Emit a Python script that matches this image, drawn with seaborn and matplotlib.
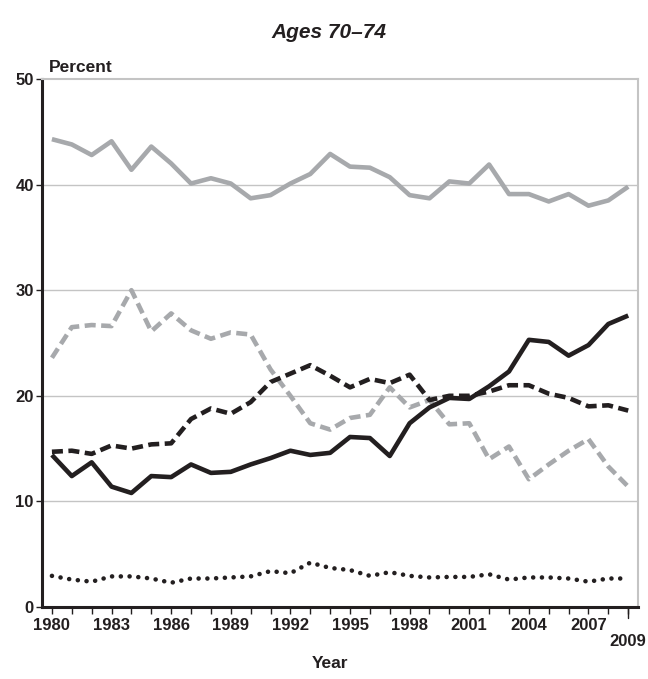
import matplotlib

matplotlib.use("Agg")
import matplotlib.pyplot as plt
import pandas as pd
import seaborn as sns

years = list(range(1980, 2010))

gray_solid = [44.3, 43.8, 42.8, 44.1, 41.4, 43.6, 42.0, 40.1, 40.6, 40.1,
              38.7, 39.0, 40.1, 41.0, 42.9, 41.7, 41.6, 40.7, 39.0, 38.7,
              40.3, 40.1, 41.9, 39.1, 39.1, 38.4, 39.1, 38.0, 38.5, 39.8]
gray_dashed = [23.6, 26.5, 26.7, 26.6, 30.0, 26.1, 27.8, 26.2, 25.4, 26.0,
               25.8, 22.5, 20.0, 17.4, 16.8, 17.9, 18.2, 20.8, 18.9, 19.6,
               17.3, 17.4, 14.0, 15.2, 12.1, 13.5, 14.8, 15.9, 13.3, 11.4]
black_dashed = [14.7, 14.8, 14.5, 15.3, 15.0, 15.4, 15.5, 17.8, 18.8, 18.3,
                19.4, 21.3, 22.1, 22.9, 21.9, 20.8, 21.6, 21.2, 22.0, 19.6,
                20.0, 20.0, 20.4, 21.0, 21.0, 20.2, 19.8, 19.0, 19.1, 18.6]
black_solid = [14.4, 12.4, 13.7, 11.4, 10.8, 12.4, 12.3, 13.5, 12.7, 12.8,
               13.5, 14.1, 14.8, 14.4, 14.6, 16.1, 16.0, 14.3, 17.4, 18.9,
               19.8, 19.7, 20.9, 22.3, 25.3, 25.1, 23.8, 24.8, 26.8, 27.6]
black_dotted = [2.95, 2.6, 2.4, 2.9, 2.9, 2.7, 2.3, 2.7, 2.7, 2.8,
                2.9, 3.4, 3.2, 4.2, 3.7, 3.5, 2.95, 3.3, 2.95, 2.8,
                2.85, 2.85, 3.1, 2.6, 2.8, 2.8, 2.7, 2.4, 2.7, 2.7]

tick_years = [1980, 1983, 1986, 1989, 1992, 1995, 1998, 2001, 2004, 2007]
y_ticks = [0, 10, 20, 30, 40, 50]

GRAY = "#a7a9ac"
BLACK = "#231f20"
FONT = ["Liberation Sans Narrow", "Liberation Sans", "DejaVu Sans"]

sns.set_style("white")
plt.rcParams["font.family"] = FONT
plt.rcParams["font.weight"] = "bold"

df = pd.DataFrame({
    "Year": years,
    "gray_solid": gray_solid,
    "gray_dashed": gray_dashed,
    "black_dashed": black_dashed,
    "black_solid": black_solid,
    "black_dotted": black_dotted,
})

DASH = (0, (2.4, 1.2))
DOT = (0, (0.01, 1.9))
styles = {
    "gray_solid": dict(color=GRAY, linestyle="-"),
    "gray_dashed": dict(color=GRAY, linestyle=DASH),
    "black_dashed": dict(color=BLACK, linestyle=DASH),
    "black_solid": dict(color=BLACK, linestyle="-"),
    "black_dotted": dict(color=BLACK, linestyle=DOT, dash_capstyle="round"),
}

fig = plt.figure(figsize=(6.48, 6.79), dpi=100)
ax = fig.add_axes([0.0648, 0.106, 0.92, 0.7777])

for y_val in [10, 20, 30, 40]:
    ax.axhline(y_val, color="#c4c4c4", lw=1.0, zorder=0)

for name, kw in styles.items():
    sns.lineplot(data=df, x="Year", y=name, ax=ax, lw=3.3,
                 solid_capstyle="butt", **kw)

ax.set_xlim(1979.5, 2009.5)
ax.set_ylim(0, 50)

ax.set_xticks(years)
ax.set_xticklabels([str(y) if y in tick_years else "" for y in years],
                   fontsize=12, fontweight="bold")
ax.set_yticks(y_ticks)
ax.set_yticklabels([str(v) for v in y_ticks], fontsize=12, fontweight="bold")
ax.tick_params(axis="x", length=5, width=1, color=BLACK, pad=3,
               labelcolor=BLACK, bottom=True)
ax.tick_params(axis="y", length=4, width=1, color=BLACK, pad=2,
               labelcolor=BLACK, left=True)

# longer tick and dropped label for the last year
ax.plot([2009, 2009], [0, -0.02], transform=ax.get_xaxis_transform(),
        color=BLACK, lw=1, clip_on=False)
ax.text(2009, -0.066, "2009", transform=ax.get_xaxis_transform(),
        ha="center", va="center", fontsize=12, fontweight="bold", color=BLACK)

ax.set_xlabel("")
ax.set_ylabel("")
for side in ["left", "bottom"]:
    ax.spines[side].set_color(BLACK)
    ax.spines[side].set_linewidth(2.2)
for side in ["top", "right"]:
    ax.spines[side].set_color("#c4c4c4")
    ax.spines[side].set_linewidth(1.5)

fig.text(0.075, 1 - 67 / 679, "Percent", fontsize=12.5, fontweight="bold",
         color=BLACK, ha="left", va="center")
fig.text(0.507, 1 - 32 / 679, "Ages 70\u201374", fontsize=15,
         fontweight="bold", fontstyle="italic", color=BLACK,
         ha="center", va="center")
fig.text(0.51, 1 - 663 / 679, "Year", fontsize=12.5, fontweight="bold",
         color=BLACK, ha="center", va="center")

fig.savefig("out.png", dpi=100)
